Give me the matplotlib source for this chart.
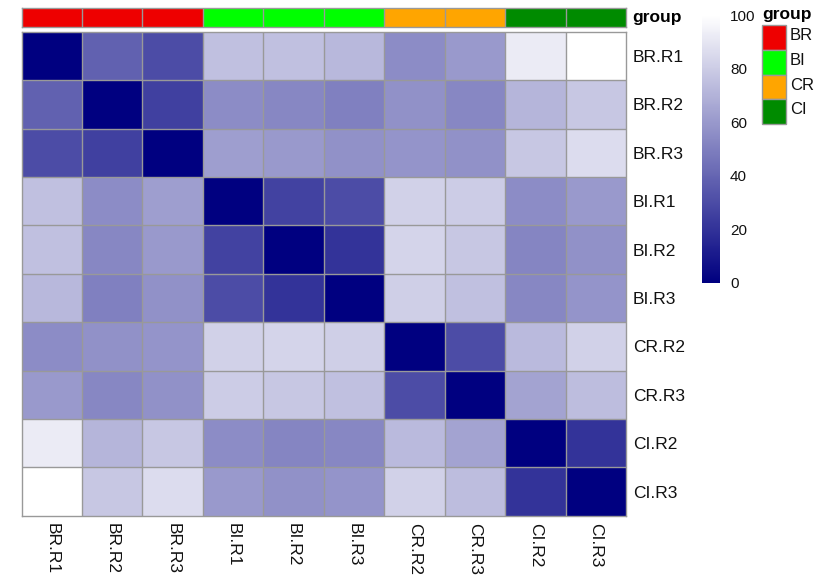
import numpy as np
import matplotlib.pyplot as plt
from matplotlib.colors import LinearSegmentedColormap
from matplotlib.patches import Rectangle

plt.rcParams['font.family'] = ['Liberation Sans', 'DejaVu Sans']

samples = ["BR.R1", "BR.R2", "BR.R3", "BI.R1", "BI.R2", "BI.R3",
           "CR.R2", "CR.R3", "CI.R2", "CI.R3"]
sample_group = ["BR", "BR", "BR", "BI", "BI", "BI", "CR", "CR", "CI", "CI"]
groups = ["BR", "BI", "CR", "CI"]
group_colors = {"BR": "#EE0000", "BI": "#00FF00", "CR": "#FFA500", "CI": "#008B00"}

# pairwise distances between samples (rows/cols in the same order)
dist = np.array([
    [0, 38, 30, 75, 75, 72, 55, 60, 92, 100],
    [38, 0, 25, 55, 53, 50, 57, 53, 71, 78],
    [30, 25, 0, 62, 60, 57, 58, 57, 78, 86],
    [75, 55, 62, 0, 26, 30, 82, 80, 55, 60],
    [75, 53, 60, 26, 0, 20, 83, 78, 52, 57],
    [72, 50, 57, 30, 20, 0, 81, 75, 53, 58],
    [55, 57, 58, 82, 83, 81, 0, 30, 73, 82],
    [60, 53, 57, 80, 78, 75, 30, 0, 64, 74],
    [92, 71, 78, 55, 52, 53, 73, 64, 0, 20],
    [100, 78, 86, 60, 57, 58, 82, 74, 20, 0],
])
cbar_ticks = [0, 20, 40, 60, 80, 100]

cmap = LinearSegmentedColormap.from_list("navy_white", ["#000080", "#FFFFFF"])
border = "#999999"
lw = 1.0

W, H = 824, 581
fig = plt.figure(figsize=(W / 100, H / 100), dpi=100)

def px_axes(x0, y0, x1, y1):
    return fig.add_axes([x0 / W, 1 - y1 / H, (x1 - x0) / W, (y1 - y0) / H])

def cell_borders(a, nx, ny):
    a.vlines(np.arange(1, nx), 0, ny, color=border, linewidth=lw)
    a.hlines(np.arange(1, ny), 0, nx, color=border, linewidth=lw)
    for s in a.spines.values():
        s.set_color(border)
        s.set_linewidth(lw)

n = len(samples)

# main heatmap
ax = px_axes(21.5, 31.7, 626, 515.7)
ax.pcolormesh(np.arange(n + 1), np.arange(n + 1), dist, cmap=cmap, vmin=0, vmax=100)
ax.set_xlim(0, n)
ax.set_ylim(n, 0)
cell_borders(ax, n, n)
ax.yaxis.tick_right()
ax.set_yticks(np.arange(n) + 0.5)
ax.set_yticklabels(samples, fontsize=12.5, color="#111111")
ax.set_xticks(np.arange(n) + 0.5)
ax.set_xticklabels(samples, fontsize=12.5, rotation=270, va="top", ha="center", color="#111111")
ax.tick_params(length=0, pad=5)

# group annotation bar
ax_ann = px_axes(21.5, 8.3, 626, 26.7)
grp_idx = np.array([[groups.index(g) for g in sample_group]])
ann_cmap = LinearSegmentedColormap.from_list("grp", [group_colors[g] for g in groups], N=len(groups))
ax_ann.pcolormesh(np.arange(n + 1), [0, 1], grp_idx, cmap=ann_cmap, vmin=-0.5,
                  vmax=len(groups) - 0.5)
ax_ann.set_xlim(0, n)
ax_ann.set_ylim(0, 1)
ax_ann.set_xticks([])
ax_ann.set_yticks([])
cell_borders(ax_ann, n, 1)
fig.text(632 / W, 1 - 17.5 / H, "group", fontsize=12.5, fontweight="bold", va="center", ha="left")

# colour key
ax_cb = px_axes(701.7, 8.3, 719, 282.7)
grad = np.linspace(0, 102.6, 256).reshape(-1, 1)
ax_cb.imshow(grad, cmap=cmap, vmin=0, vmax=100, aspect="auto", origin="lower",
             extent=[0, 1, 0, 102.6])
ax_cb.set_xticks([])
ax_cb.yaxis.tick_right()
ax_cb.set_yticks(cbar_ticks)
ax_cb.set_yticklabels([str(t) for t in cbar_ticks], fontsize=11, color="#111111")
ax_cb.tick_params(length=0, pad=8)
for s in ax_cb.spines.values():
    s.set_visible(False)

# group legend
ax_leg = fig.add_axes([0, 0, 1, 1])
ax_leg.set_xlim(0, W)
ax_leg.set_ylim(H, 0)
ax_leg.axis("off")
ax_leg.text(762, 14.5, "group", fontsize=12.5, fontweight="bold", va="center", ha="left")
box_h = 24.8
for i, g in enumerate(groups):
    y0 = 25 + i * box_h
    ax_leg.add_patch(Rectangle((762, y0), 24, box_h, facecolor=group_colors[g],
                               edgecolor=border, linewidth=lw))
    ax_leg.text(790, y0 + box_h / 2 - 2, g, fontsize=12, va="center", ha="left", color="#111111")

fig.savefig("out.png", dpi=100)
